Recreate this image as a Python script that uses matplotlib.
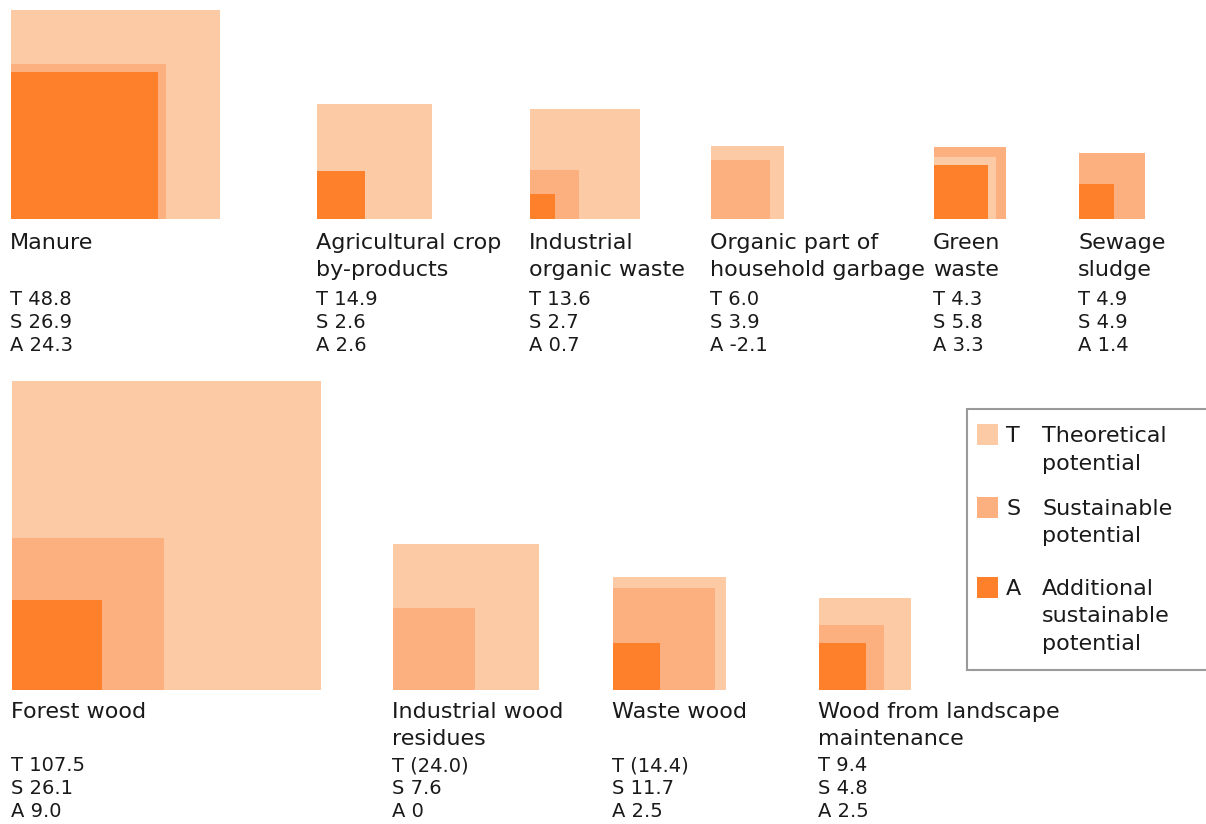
import numpy as np
import matplotlib
matplotlib.use("Agg")
import matplotlib.pyplot as plt
from matplotlib.patches import Rectangle

plt.rcParams["font.family"] = "DejaVu Sans"

# data
categories = ["Manure", "Agricultural crop\nby-products", "Industrial\norganic waste",
              "Organic part of\nhousehold garbage", "Green\nwaste", "Sewage\nsludge",
              "Forest wood", "Industrial wood\nresidues", "Waste wood",
              "Wood from landscape\nmaintenance"]
theoretical = [48.8, 14.9, 13.6, 6.0, 4.3, 4.9, 107.5, 24.0, 14.4, 9.4]
sustainable = [26.9, 2.6, 2.7, 3.9, 5.8, 4.9, 26.1, 7.6, 11.7, 4.8]
additional = [24.3, 2.6, 0.7, -2.1, 3.3, 1.4, 9.0, 0, 2.5, 2.5]
t_text = ["48.8", "14.9", "13.6", "6.0", "4.3", "4.9", "107.5", "(24.0)", "(14.4)", "9.4"]
s_text = ["26.9", "2.6", "2.7", "3.9", "5.8", "4.9", "26.1", "7.6", "11.7", "4.8"]
a_text = ["24.3", "2.6", "0.7", "-2.1", "3.3", "1.4", "9.0", "0", "2.5", "2.5"]

legend_keys = ["T", "S", "A"]
legend_names = ["Theoretical\npotential", "Sustainable\npotential",
                "Additional\nsustainable\npotential"]

# layout (pixels)
x_left = [11, 317, 530, 711, 934, 1079, 12, 393, 613, 819]
row = [0, 0, 0, 0, 0, 0, 1, 1, 1, 1]
row_bottom = [219, 690]
label_off = [30, 28]
value_off = [86, 81]
K = 29.85  # px per sqrt(unit): area proportional to value

colors = {"T": "#fdcaa6", "S": "#fdb07f", "A": "#ff802b"}
txt_col = "#1a1a1a"

fig = plt.figure(figsize=(12.06, 8.24), dpi=100)
ax = fig.add_axes([0, 0, 1, 1])
ax.set_xlim(0, 1206)
ax.set_ylim(824, 0)
ax.axis("off")

for i, name in enumerate(categories):
    x0 = x_left[i]
    yb = row_bottom[row[i]]
    vals = [("T", theoretical[i]), ("S", sustainable[i]), ("A", additional[i])]
    # biggest first so smaller squares stay visible
    order = sorted(range(3), key=lambda j: -vals[j][1])
    for j in order:
        key, v = vals[j]
        if v <= 0:
            continue
        side = K * np.sqrt(v)
        ax.add_patch(Rectangle((x0, yb - side), side, side, facecolor=colors[key],
                               edgecolor="none"))
    # category label
    for k, line in enumerate(name.split("\n")):
        ax.text(x0 - 1, yb + label_off[row[i]] + 27 * k, line, fontsize=16,
                color=txt_col, va="baseline", ha="left")
    # values
    for k, s in enumerate(["T " + t_text[i], "S " + s_text[i], "A " + a_text[i]]):
        ax.text(x0 - 1, yb + value_off[row[i]] + 23 * k, s, fontsize=14,
                color=txt_col, va="baseline", ha="left")

# legend box
ax.add_patch(Rectangle((967, 409), 245, 261, facecolor="white", edgecolor="#9a9a9a",
                       linewidth=1.5))
leg_top = [424, 497, 577]
for k, key in enumerate(legend_keys):
    ax.add_patch(Rectangle((977, leg_top[k]), 21, 21, facecolor=colors[key],
                           edgecolor="none"))
    ax.text(1006, leg_top[k] + 18, key, fontsize=16, color=txt_col, va="baseline")
    for m, line in enumerate(legend_names[k].split("\n")):
        ax.text(1042, leg_top[k] + 18 + 27.5 * m, line, fontsize=16,
                color=txt_col, va="baseline")

fig.savefig("out.png", dpi=100)
